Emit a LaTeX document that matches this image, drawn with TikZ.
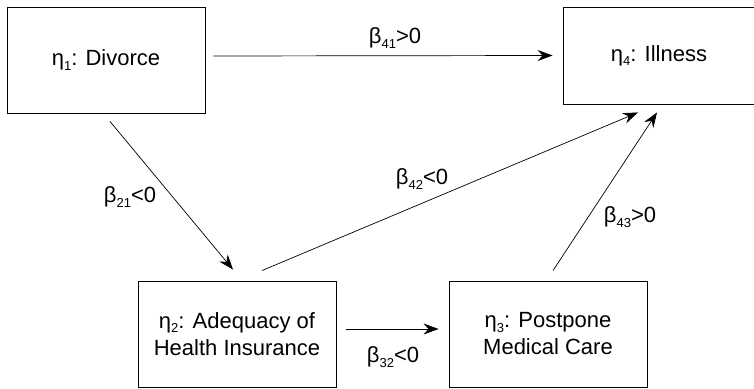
\documentclass[tikz,border=0pt]{standalone}
\usepackage{fontspec}
\setmainfont{Liberation Sans}
\usetikzlibrary{arrows.meta}
\newcommand\sbx[1]{\raisebox{-0.2em}{\fontsize{13}{13}\selectfont #1}}
\begin{document}
\begin{tikzpicture}[x=1pt,y=-1pt,
  box/.style={draw, line width=0.9pt, inner sep=0pt, align=center,
    minimum width=198pt, minimum height=106pt,
    font=\fontsize{22}{27}\selectfont},
  conn/.style={-{Stealth[length=15pt,width=11pt,inset=5pt]}, line width=0.7pt},
  lbl/.style={inner sep=0pt, font=\fontsize{22}{22}\selectfont}]
\useasboundingbox (0,0) rectangle (754,388);
\node[box] (d) at (106,60) {η\sbx{1}: Divorce};
\node[box, minimum width=192pt, minimum height=97pt] (i) at (659,55.5) {η\sbx{4}: Illness};
\node[box] (a) at (237,334) {η\sbx{2}: Adequacy of\\Health Insurance};
\node[box] (p) at (548,334) {η\sbx{3}: Postpone\\Medical Care};
\draw[conn] ([xshift=8pt,yshift=4pt]d.east) -- ([xshift=-10pt]i.west);
\draw[conn] ([xshift=4pt,yshift=-8pt]d.south) -- ([xshift=-4pt,yshift=11pt]a.north);
\draw[conn] ([xshift=25pt,yshift=10pt]a.north) -- ([xshift=-21pt,yshift=-8pt]i.south);
\draw[conn] ([xshift=5pt,yshift=10pt]p.north) -- ([xshift=-2pt,yshift=-8pt]i.south);
\draw[conn] ([xshift=10pt,yshift=5pt]a.east) -- ([xshift=-10pt,yshift=5pt]p.west);
\node[lbl] (l41) at (395,38) {β\sbx{41}>0};
\node[lbl] (l21) at (130,197) {β\sbx{21}<0};
\node[lbl] (l42) at (422,179) {β\sbx{42}<0};
\node[lbl] (l43) at (630,217) {β\sbx{43}>0};
\node[lbl] (l32) at (393,357) {β\sbx{32}<0};
\end{tikzpicture}
\end{document}
